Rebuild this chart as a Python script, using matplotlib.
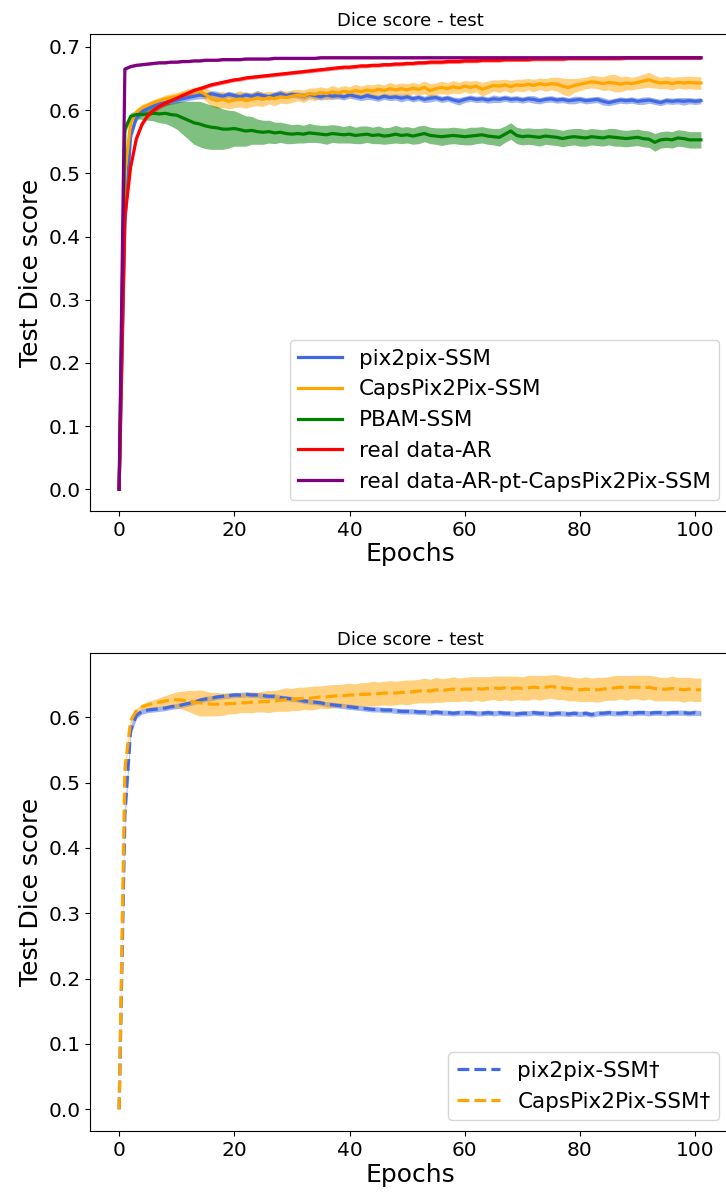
import numpy as np
import matplotlib
matplotlib.use('Agg')
import matplotlib.pyplot as plt

epochs = list(range(102))

# top panel: mean curves
pix2pix_ssm = [
    0.000, 0.420, 0.560, 0.588, 0.598, 0.603, 0.607, 0.610, 0.612, 0.614,
    0.616, 0.618, 0.620, 0.622, 0.624, 0.623, 0.626, 0.624, 0.622, 0.625,
    0.623, 0.621, 0.624, 0.622, 0.625, 0.623, 0.621, 0.624, 0.626, 0.623,
    0.625, 0.624, 0.622, 0.625, 0.623, 0.621, 0.624, 0.622, 0.623, 0.621,
    0.624, 0.622, 0.620, 0.623, 0.621, 0.619, 0.622, 0.620, 0.621, 0.619,
    0.621, 0.618, 0.620, 0.617, 0.619, 0.620, 0.617, 0.619, 0.616, 0.614,
    0.617, 0.619, 0.617, 0.618, 0.616, 0.618, 0.617, 0.619, 0.617, 0.618,
    0.616, 0.618, 0.617, 0.615, 0.617, 0.618, 0.616, 0.617, 0.615, 0.616,
    0.617, 0.615, 0.616, 0.617, 0.614, 0.612, 0.614, 0.616, 0.615, 0.616,
    0.614, 0.615, 0.616, 0.614, 0.612, 0.615, 0.614, 0.615, 0.614, 0.615,
    0.614, 0.615]
pix2pix_ssm_std = [
    0.000, 0.015, 0.010, 0.006, 0.005, 0.005, 0.005, 0.005, 0.005, 0.005,
    0.005, 0.005, 0.005, 0.005, 0.006, 0.005, 0.005, 0.006, 0.005, 0.005,
    0.005, 0.006, 0.005, 0.005, 0.006, 0.005, 0.005, 0.005, 0.006, 0.005,
    0.005, 0.005, 0.006, 0.005, 0.005, 0.005, 0.006, 0.005, 0.005, 0.005,
    0.005, 0.005, 0.005, 0.006, 0.005, 0.005, 0.005, 0.005, 0.005, 0.006,
    0.005, 0.005, 0.005, 0.005, 0.006, 0.005, 0.005, 0.005, 0.005, 0.006,
    0.005, 0.005, 0.005, 0.005, 0.005, 0.006, 0.005, 0.005, 0.005, 0.005,
    0.005, 0.005, 0.006, 0.005, 0.005, 0.005, 0.005, 0.005, 0.005, 0.006,
    0.005, 0.005, 0.005, 0.005, 0.006, 0.005, 0.005, 0.005, 0.005, 0.005,
    0.005, 0.006, 0.005, 0.005, 0.005, 0.005, 0.005, 0.005, 0.006, 0.005,
    0.005, 0.005]

capspix2pix_ssm = [
    0.000, 0.500, 0.580, 0.597, 0.604, 0.608, 0.612, 0.615, 0.618, 0.620,
    0.622, 0.625, 0.627, 0.629, 0.630, 0.625, 0.618, 0.615, 0.617, 0.614,
    0.616, 0.618, 0.615, 0.617, 0.619, 0.617, 0.620, 0.618, 0.621, 0.620,
    0.622, 0.624, 0.622, 0.626, 0.625, 0.628, 0.626, 0.629, 0.627, 0.630,
    0.628, 0.631, 0.629, 0.632, 0.630, 0.633, 0.631, 0.634, 0.632, 0.634,
    0.632, 0.635, 0.633, 0.636, 0.631, 0.634, 0.636, 0.634, 0.637, 0.635,
    0.638, 0.636, 0.638, 0.633, 0.636, 0.639, 0.638, 0.640, 0.637, 0.640,
    0.639, 0.641, 0.639, 0.642, 0.640, 0.642, 0.641, 0.638, 0.636, 0.639,
    0.641, 0.643, 0.645, 0.644, 0.642, 0.644, 0.643, 0.641, 0.643, 0.642,
    0.644, 0.646, 0.648, 0.645, 0.643, 0.644, 0.642, 0.644, 0.643, 0.644,
    0.643, 0.643]
capspix2pix_ssm_std = [
    0.000, 0.010, 0.006, 0.005, 0.005, 0.005, 0.005, 0.005, 0.006, 0.006,
    0.006, 0.006, 0.007, 0.007, 0.008, 0.010, 0.012, 0.012, 0.013, 0.012,
    0.012, 0.013, 0.012, 0.011, 0.012, 0.011, 0.010, 0.011, 0.010, 0.010,
    0.010, 0.009, 0.010, 0.009, 0.010, 0.009, 0.009, 0.010, 0.009, 0.009,
    0.009, 0.010, 0.009, 0.009, 0.010, 0.009, 0.009, 0.010, 0.009, 0.009,
    0.010, 0.009, 0.009, 0.010, 0.011, 0.009, 0.010, 0.009, 0.010, 0.009,
    0.009, 0.010, 0.009, 0.011, 0.010, 0.009, 0.010, 0.009, 0.010, 0.009,
    0.010, 0.009, 0.010, 0.009, 0.010, 0.010, 0.011, 0.013, 0.014, 0.011,
    0.010, 0.009, 0.010, 0.010, 0.011, 0.012, 0.014, 0.012, 0.011, 0.010,
    0.010, 0.011, 0.012, 0.010, 0.009, 0.010, 0.010, 0.009, 0.010, 0.010,
    0.010, 0.010]

pbam_ssm = [
    0.000, 0.570, 0.590, 0.593, 0.593, 0.594, 0.595, 0.594, 0.595, 0.593,
    0.592, 0.588, 0.584, 0.580, 0.578, 0.575, 0.573, 0.572, 0.570, 0.570,
    0.571, 0.569, 0.567, 0.568, 0.566, 0.565, 0.566, 0.564, 0.565, 0.563,
    0.562, 0.563, 0.562, 0.564, 0.563, 0.562, 0.561, 0.563, 0.562, 0.561,
    0.562, 0.560, 0.561, 0.562, 0.560, 0.561, 0.559, 0.560, 0.562, 0.560,
    0.561, 0.559, 0.561, 0.563, 0.560, 0.559, 0.558, 0.559, 0.560, 0.559,
    0.558, 0.559, 0.560, 0.561, 0.559, 0.558, 0.557, 0.562, 0.567, 0.560,
    0.558, 0.559, 0.558, 0.557, 0.559, 0.558, 0.557, 0.555, 0.557, 0.558,
    0.557, 0.556, 0.558, 0.557, 0.556, 0.558, 0.557, 0.556, 0.555, 0.556,
    0.557, 0.555, 0.554, 0.549, 0.553, 0.554, 0.553, 0.556, 0.555, 0.553,
    0.553, 0.553]
pbam_ssm_std = [
    0.000, 0.008, 0.006, 0.006, 0.008, 0.010, 0.012, 0.014, 0.016, 0.018,
    0.022, 0.026, 0.030, 0.034, 0.036, 0.036, 0.035, 0.034, 0.032, 0.030,
    0.028, 0.026, 0.024, 0.022, 0.020, 0.019, 0.018, 0.017, 0.016, 0.016,
    0.015, 0.015, 0.014, 0.015, 0.014, 0.014, 0.015, 0.014, 0.014, 0.013,
    0.014, 0.013, 0.014, 0.013, 0.013, 0.014, 0.013, 0.013, 0.014, 0.013,
    0.013, 0.013, 0.014, 0.013, 0.013, 0.013, 0.014, 0.013, 0.013, 0.013,
    0.013, 0.014, 0.013, 0.013, 0.013, 0.013, 0.014, 0.013, 0.013, 0.013,
    0.013, 0.013, 0.013, 0.014, 0.013, 0.013, 0.013, 0.013, 0.013, 0.013,
    0.014, 0.013, 0.013, 0.013, 0.013, 0.013, 0.014, 0.013, 0.013, 0.013,
    0.013, 0.013, 0.013, 0.014, 0.013, 0.013, 0.013, 0.013, 0.013, 0.013,
    0.013, 0.013]

real_ar = [
    0.000, 0.430, 0.510, 0.555, 0.578, 0.592, 0.600, 0.606, 0.611, 0.615,
    0.619, 0.623, 0.627, 0.631, 0.634, 0.637, 0.640, 0.642, 0.644, 0.646,
    0.648, 0.649, 0.651, 0.652, 0.653, 0.654, 0.655, 0.656, 0.657, 0.658,
    0.659, 0.660, 0.661, 0.662, 0.663, 0.664, 0.665, 0.666, 0.667, 0.668,
    0.668, 0.669, 0.670, 0.670, 0.671, 0.671, 0.672, 0.672, 0.673, 0.673,
    0.674, 0.674, 0.675, 0.675, 0.676, 0.676, 0.676, 0.677, 0.677, 0.677,
    0.678, 0.678, 0.678, 0.679, 0.679, 0.679, 0.679, 0.680, 0.680, 0.680,
    0.680, 0.680, 0.681, 0.681, 0.681, 0.681, 0.681, 0.681, 0.682, 0.682,
    0.682, 0.682, 0.682, 0.682, 0.682, 0.682, 0.682, 0.682, 0.683, 0.683,
    0.683, 0.683, 0.683, 0.683, 0.683, 0.683, 0.683, 0.683, 0.683, 0.683,
    0.683, 0.683]
real_ar_std = [
    0.000, 0.010, 0.006, 0.005, 0.004, 0.004, 0.004, 0.004, 0.004, 0.004,
    0.004, 0.004, 0.004, 0.004, 0.003, 0.003, 0.003, 0.003, 0.003, 0.003,
    0.003, 0.003, 0.003, 0.003, 0.003, 0.003, 0.003, 0.003, 0.003, 0.003,
    0.003, 0.003, 0.003, 0.003, 0.003, 0.003, 0.003, 0.003, 0.003, 0.003,
    0.003, 0.003, 0.003, 0.003, 0.003, 0.003, 0.003, 0.003, 0.003, 0.003,
    0.003, 0.003, 0.003, 0.003, 0.003, 0.003, 0.003, 0.003, 0.003, 0.003,
    0.003, 0.003, 0.003, 0.003, 0.003, 0.003, 0.003, 0.003, 0.003, 0.003,
    0.003, 0.003, 0.003, 0.003, 0.003, 0.003, 0.003, 0.003, 0.003, 0.003,
    0.003, 0.003, 0.003, 0.003, 0.003, 0.003, 0.003, 0.003, 0.003, 0.003,
    0.003, 0.003, 0.003, 0.003, 0.003, 0.003, 0.003, 0.003, 0.003, 0.003,
    0.003, 0.003]

real_ar_pt = [
    0.000, 0.665, 0.669, 0.671, 0.672, 0.673, 0.674, 0.675, 0.675, 0.676,
    0.676, 0.677, 0.677, 0.678, 0.678, 0.679, 0.679, 0.679, 0.680, 0.680,
    0.680, 0.680, 0.681, 0.681, 0.681, 0.681, 0.681, 0.682, 0.682, 0.682,
    0.682, 0.682, 0.682, 0.682, 0.682, 0.683, 0.683, 0.683, 0.683, 0.683,
    0.683, 0.683, 0.683, 0.683, 0.683, 0.683, 0.683, 0.683, 0.683, 0.683,
    0.683, 0.683, 0.683, 0.683, 0.683, 0.683, 0.683, 0.683, 0.683, 0.683,
    0.683, 0.683, 0.683, 0.683, 0.683, 0.683, 0.683, 0.683, 0.683, 0.683,
    0.683, 0.683, 0.683, 0.683, 0.683, 0.683, 0.683, 0.683, 0.683, 0.683,
    0.683, 0.683, 0.683, 0.683, 0.683, 0.683, 0.683, 0.683, 0.683, 0.683,
    0.683, 0.683, 0.683, 0.683, 0.683, 0.683, 0.683, 0.683, 0.683, 0.683,
    0.683, 0.683]
real_ar_pt_std = [0.000] + [0.002] * 101

# bottom panel: mean curves
pix2pix_ssm_dag = [
    0.000, 0.450, 0.580, 0.603, 0.609, 0.611, 0.612, 0.613, 0.614, 0.616,
    0.617, 0.619, 0.621, 0.623, 0.626, 0.628, 0.629, 0.631, 0.632, 0.633,
    0.634, 0.634, 0.635, 0.634, 0.634, 0.633, 0.632, 0.632, 0.630, 0.629,
    0.628, 0.627, 0.625, 0.624, 0.623, 0.622, 0.620, 0.619, 0.618, 0.617,
    0.616, 0.615, 0.614, 0.613, 0.612, 0.612, 0.611, 0.611, 0.610, 0.609,
    0.609, 0.609, 0.608, 0.608, 0.607, 0.608, 0.607, 0.607, 0.606, 0.607,
    0.607, 0.607, 0.606, 0.606, 0.607, 0.606, 0.607, 0.606, 0.606, 0.605,
    0.606, 0.606, 0.607, 0.606, 0.606, 0.605, 0.606, 0.606, 0.605, 0.606,
    0.605, 0.606, 0.604, 0.606, 0.606, 0.607, 0.606, 0.606, 0.607, 0.606,
    0.607, 0.607, 0.606, 0.607, 0.607, 0.606, 0.607, 0.607, 0.607, 0.606,
    0.607, 0.606]
pix2pix_ssm_dag_std = [0.000, 0.012, 0.008, 0.005] + [0.004] * 98

capspix2pix_ssm_dag = [
    0.000, 0.520, 0.595, 0.610, 0.616, 0.619, 0.621, 0.623, 0.625, 0.626,
    0.627, 0.626, 0.625, 0.623, 0.622, 0.621, 0.620, 0.620, 0.620, 0.621,
    0.621, 0.622, 0.622, 0.623, 0.623, 0.624, 0.624, 0.625, 0.626, 0.627,
    0.627, 0.628, 0.629, 0.629, 0.630, 0.631, 0.631, 0.632, 0.633, 0.633,
    0.634, 0.634, 0.635, 0.635, 0.636, 0.636, 0.637, 0.637, 0.637, 0.638,
    0.638, 0.639, 0.640, 0.641, 0.640, 0.642, 0.641, 0.642, 0.643, 0.642,
    0.643, 0.643, 0.644, 0.643, 0.644, 0.645, 0.644, 0.645, 0.644, 0.645,
    0.644, 0.645, 0.646, 0.645, 0.646, 0.647, 0.646, 0.645, 0.644, 0.643,
    0.642, 0.643, 0.642, 0.642, 0.643, 0.644, 0.645, 0.646, 0.645, 0.646,
    0.646, 0.645, 0.646, 0.644, 0.643, 0.643, 0.644, 0.643, 0.642, 0.643,
    0.642, 0.642]
capspix2pix_ssm_dag_std = [
    0.000, 0.008, 0.005, 0.004, 0.004, 0.005, 0.006, 0.007, 0.008, 0.010,
    0.012, 0.014, 0.016, 0.018, 0.020, 0.019, 0.018, 0.018, 0.017, 0.016,
    0.016, 0.015, 0.015, 0.016, 0.015, 0.016, 0.017, 0.016, 0.017, 0.018,
    0.017, 0.018, 0.017, 0.018, 0.018, 0.017, 0.018, 0.018, 0.017, 0.018,
    0.018, 0.017, 0.018, 0.018, 0.019, 0.018, 0.018, 0.019, 0.018, 0.018,
    0.019, 0.018, 0.018, 0.019, 0.018, 0.019, 0.018, 0.018, 0.019, 0.018,
    0.018, 0.019, 0.018, 0.019, 0.018, 0.018, 0.019, 0.018, 0.019, 0.018,
    0.018, 0.019, 0.018, 0.019, 0.018, 0.018, 0.019, 0.018, 0.019, 0.018,
    0.018, 0.019, 0.018, 0.019, 0.018, 0.018, 0.019, 0.018, 0.019, 0.018,
    0.018, 0.019, 0.018, 0.019, 0.018, 0.018, 0.019, 0.018, 0.019, 0.018,
    0.018, 0.018]

top_series = [
    ('pix2pix-SSM', pix2pix_ssm, pix2pix_ssm_std, 'royalblue'),
    ('CapsPix2Pix-SSM', capspix2pix_ssm, capspix2pix_ssm_std, 'orange'),
    ('PBAM-SSM', pbam_ssm, pbam_ssm_std, 'green'),
    ('real data-AR', real_ar, real_ar_std, 'red'),
    ('real data-AR-pt-CapsPix2Pix-SSM', real_ar_pt, real_ar_pt_std, 'purple'),
]
bottom_series = [
    ('pix2pix-SSM\u2020', pix2pix_ssm_dag, pix2pix_ssm_dag_std, 'royalblue'),
    ('CapsPix2Pix-SSM\u2020', capspix2pix_ssm_dag, capspix2pix_ssm_dag_std, 'orange'),
]

fig = plt.figure(figsize=(7.26, 11.98), dpi=100)
ax1 = fig.add_axes([0.124, 0.5735, 0.8815, 0.398])
ax2 = fig.add_axes([0.124, 0.0559, 0.8815, 0.399])

x = np.array(epochs)
for label, m, s, c in top_series:
    m = np.array(m)
    s = np.array(s)
    ax1.fill_between(x, m - s, m + s, color=c, alpha=0.5, linewidth=0)
    ax1.plot(x, m, color=c, lw=2.3, label=label)

for label, m, s, c in bottom_series:
    m = np.array(m)
    s = np.array(s)
    ax2.fill_between(x, m - s, m + s, color=c, alpha=0.5, linewidth=0)
    ax2.plot(x, m, color=c, lw=2.3, ls='--', label=label)

for ax in (ax1, ax2):
    ax.set_title('Dice score - test', fontsize=13)
    ax.set_xlabel('Epochs', fontsize=18, labelpad=2)
    ax.set_ylabel('Test Dice score', fontsize=18)
    ax.tick_params(labelsize=14.5)
    ax.set_xticks([0, 20, 40, 60, 80, 100])
    ax.legend(loc='lower right', fontsize=15.5)

ax1.set_yticks([0.0, 0.1, 0.2, 0.3, 0.4, 0.5, 0.6, 0.7])
ax2.set_yticks([0.0, 0.1, 0.2, 0.3, 0.4, 0.5, 0.6])

fig.savefig('out.png', dpi=100)
